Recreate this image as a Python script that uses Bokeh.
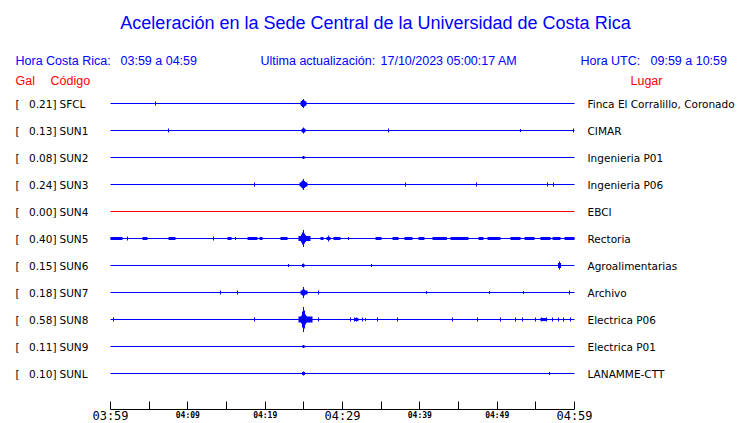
from bokeh.plotting import figure
from bokeh.models import Range1d, LinearAxis, FixedTicker, Label, ColumnDataSource
from bokeh.core.properties import value
from bokeh.embed import file_html
from bokeh.resources import INLINE

# ---------------- data ----------------
codes = ["SFCL", "SUN1", "SUN2", "SUN3", "SUN4", "SUN5", "SUN6", "SUN7", "SUN8", "SUN9", "SUNL"]
gal = [0.21, 0.13, 0.08, 0.24, 0.00, 0.40, 0.15, 0.18, 0.58, 0.11, 0.10]
places = ["Finca El Corralillo, Coronado", "CIMAR", "Ingenieria P01", "Ingenieria P06", "EBCI",
          "Rectoria", "Agroalimentarias", "Archivo", "Electrica P06", "Electrica P01", "LANAMME-CTT"]
online = [True, True, True, True, False, True, True, True, True, True, True]

# minutes after 03:59 (local time)
tick_minutes = [0, 5, 10, 15, 20, 25, 30, 35, 40, 45, 50, 55, 60]
major_tick_labels = {0: "03:59", 30: "04:29", 60: "04:59"}
minor_tick_labels = {10: "04:09", 20: "04:19", 40: "04:39", 50: "04:49"}

# trace peaks: (minute, half amplitude in display counts)
sfcl_peaks = [(5.82, 2), (24.7, 2.5), (24.83, 3.5), (24.96, 4.5), (25.09, 3), (25.22, 2)]
sun1_peaks = [(7.5, 2), (24.83, 2), (24.96, 3), (25.09, 2), (35.95, 2), (53.02, 1.5), (59.87, 2)]
sun2_peaks = [(24.83, 1), (24.96, 1.5), (25.09, 1)]
sun3_peaks = [(18.62, 2), (24.7, 3), (24.83, 4), (24.96, 5.5), (25.09, 3.5), (25.22, 2.5),
              (38.15, 2), (47.33, 2), (56.51, 2), (57.29, 2)]
sun4_peaks = []
sun5_peaks = [(2.2, 2), (13.32, 2), (16.16, 1.5), (24.7, 4), (24.83, 6), (24.96, 8.5),
              (25.09, 5), (25.22, 3.5), (28.2, 3), (30.78, 1.5)]
sun6_peaks = [(23.02, 1.5), (24.83, 1.5), (24.96, 2), (25.09, 1), (33.75, 1.5),
              (57.93, 2.5), (58.06, 4), (58.19, 2.5)]
sun7_peaks = [(14.22, 2), (16.42, 2), (24.83, 3), (24.96, 5.5), (25.09, 3), (26.9, 2),
              (40.86, 1.5), (49.01, 1.5), (53.41, 1.5), (59.35, 2)]
sun8_peaks = [(0.39, 2), (18.62, 2), (24.7, 4), (24.83, 8), (24.96, 12.5), (25.09, 9),
              (25.22, 5), (25.34, 3.5), (26.9, 2), (31.03, 2), (31.55, 2), (31.81, 2),
              (32.59, 2), (32.97, 1.5), (34.53, 2), (37.11, 2), (44.22, 2), (47.46, 2),
              (50.43, 2), (52.37, 2), (53.28, 2), (54.96, 2), (55.73, 2), (56.38, 2),
              (57.16, 2), (57.93, 2), (58.58, 2), (59.48, 2)]
sun9_peaks = [(24.83, 1), (24.96, 1.5), (25.09, 1)]
sunl_peaks = [(24.83, 1.5), (24.96, 2), (25.09, 1.5), (56.77, 1.5)]

# sustained vibration segments: (start minute, end minute, half amplitude)
sfcl_noise = [(24.57, 25.34, 2)]
sun1_noise = [(24.7, 25.22, 1.5)]
sun3_noise = [(24.44, 25.47, 2)]
sun5_noise = [(0.0, 1.55, 1.5), (4.14, 4.78, 1.5), (7.5, 8.4, 1.5), (15.13, 15.65, 1.5),
              (17.72, 19.0, 1.5), (19.27, 19.66, 1.5), (21.98, 22.89, 1.5), (24.31, 25.86, 2.5),
              (27.16, 27.54, 1.5), (27.93, 28.45, 1.5), (28.84, 29.74, 1.5), (34.27, 35.04, 1.5),
              (36.47, 37.24, 1.5), (38.02, 39.05, 1.5), (39.83, 40.6, 1.5), (41.64, 43.5, 1.5),
              (43.97, 46.29, 1.5), (47.59, 48.23, 1.5), (48.75, 50.43, 1.5), (51.72, 53.02, 1.5),
              (53.54, 54.83, 1.5), (55.6, 56.9, 1.5), (57.16, 58.19, 1.5), (58.71, 60.0, 1.5)]
sun7_noise = [(24.57, 25.47, 2)]
sun8_noise = [(24.31, 26.12, 3), (31.55, 32.07, 1.5), (55.6, 56.38, 1.5)]

peaks = [sfcl_peaks, sun1_peaks, sun2_peaks, sun3_peaks, sun4_peaks, sun5_peaks,
         sun6_peaks, sun7_peaks, sun8_peaks, sun9_peaks, sunl_peaks]
noise = {0: sfcl_noise, 1: sun1_noise, 3: sun3_noise, 5: sun5_noise, 7: sun7_noise, 8: sun8_noise}

# ---------------- layout / style ----------------
W, H = 740, 423
PX_PER_MIN = 464 / 60.0
X_START = -110 / PX_PER_MIN
ROW_PX = 27.0
ROW0_Y = 103.0
GAIN = 1.0 / ROW_PX          # rows per display count
AXIS_ROW = (408.5 - ROW0_Y) / ROW_PX
BLUE = "#0000ff"
RED = "#ff0000"

p = figure(width=W, height=H, output_backend="svg", toolbar_location=None,
           x_range=Range1d(X_START, X_START + W / PX_PER_MIN),
           y_range=Range1d((H - ROW0_Y) / ROW_PX, (0 - ROW0_Y) / ROW_PX),
           x_axis_type=None, y_axis_type=None, min_border=0, title=None)
p.grid.visible = False
p.outline_line_color = None
p.background_fill_color = "white"
p.border_fill_color = "white"

rows = list(range(len(codes)))

# baselines
base = ColumnDataSource(dict(
    x0=[0] * len(codes), x1=[60] * len(codes), y=rows,
    color=[BLUE if o else RED for o in online]))
p.segment(x0="x0", x1="x1", y0="y", y1="y", color="color", line_width=1, source=base)

# vibration blocks
qx0, qx1, qt, qb = [], [], [], []
for r, segs in noise.items():
    for t0, t1, a in segs:
        qx0.append(t0); qx1.append(t1)
        qt.append(r - a * GAIN); qb.append(r + a * GAIN)
p.quad(left=qx0, right=qx1, top=qt, bottom=qb, fill_color=BLUE, line_color=None)

# peaks
sx, sy0, sy1 = [], [], []
for r, plist in enumerate(peaks):
    for t, a in plist:
        sx.append(t); sy0.append(r - a * GAIN); sy1.append(r + a * GAIN)
p.segment(x0=sx, x1=sx, y0=sy0, y1=sy1, color=BLUE, line_width=1)

# row labels
lab_src = ColumnDataSource(dict(
    y=rows,
    br=["["] * len(codes),
    g=["%.2f]" % v for v in gal],
    c=codes,
    pl=places,
    xb=[(15 - 110) / PX_PER_MIN] * len(codes),
    xg=[(56 - 110) / PX_PER_MIN] * len(codes),
    xc=[(59 - 110) / PX_PER_MIN] * len(codes),
    xp=[(587 - 110) / PX_PER_MIN] * len(codes),
))
common = dict(text_font=value("DejaVu Sans"), text_font_size=value("10.5px"),
              text_baseline="middle", text_color="black", source=lab_src)
p.text(x="xb", y="y", text="br", text_align="left", **common)
p.text(x="xg", y="y", text="g", text_align="right", **common)
p.text(x="xc", y="y", text="c", text_align="left", **common)
p.text(x="xp", y="y", text="pl", text_align="left", **common)

# time axis
ax1 = LinearAxis(fixed_location=AXIS_ROW, ticker=FixedTicker(ticks=tick_minutes, minor_ticks=[]),
                 bounds=(0, 60),
                 major_label_overrides={t: major_tick_labels.get(t, "") for t in tick_minutes})
ax1.axis_line_color = "black"
ax1.axis_line_width = 1
ax1.major_tick_in = 8
ax1.major_tick_out = 0
ax1.minor_tick_in = 0
ax1.minor_tick_out = 0
ax1.major_label_standoff = 0
ax1.major_label_text_font = "DejaVu Sans Mono"
ax1.major_label_text_font_size = "12px"
ax1.major_label_text_color = "black"
p.add_layout(ax1, "below")

mt = list(minor_tick_labels.keys())
ax2 = LinearAxis(fixed_location=AXIS_ROW, ticker=FixedTicker(ticks=mt, minor_ticks=[]),
                 major_label_overrides=minor_tick_labels)
ax2.axis_line_color = None
ax2.major_tick_line_color = None
ax2.minor_tick_line_color = None
ax2.major_tick_in = 0
ax2.major_tick_out = 0
ax2.major_label_standoff = 2
ax2.major_label_text_font = "DejaVu Sans Mono"
ax2.major_label_text_font_size = "8px"
ax2.major_label_text_font_style = "bold"
ax2.major_label_text_color = "black"
p.add_layout(ax2, "below")


def label(x_page, y_page, text, color, size, align="left", font="Liberation Sans"):
    p.add_layout(Label(x=x_page, y=H - y_page, x_units="screen", y_units="screen",
                       text=text, text_color=color, text_font=font, text_font_size=size,
                       text_align=align, text_baseline="middle"))


label(375, 22, "Aceleración en la Sede Central de la Universidad de Costa Rica", BLUE, "18px", "center")
label(15, 60, "Hora Costa Rica:", BLUE, "12.5px")
label(120, 60, "03:59 a 04:59", BLUE, "12.5px")
label(260, 60, "Ultima actualización:", BLUE, "12.5px")
label(380, 60, "17/10/2023 05:00:17 AM", BLUE, "12.5px")
label(580, 60, "Hora UTC:", BLUE, "12.5px")
label(650, 60, "09:59 a 10:59", BLUE, "12.5px")
label(15, 80, "Gal", RED, "12.5px")
label(50, 80, "Código", RED, "12.5px")
label(630, 80, "Lugar", RED, "12.5px")

open("out.html", "w").write(file_html(p, INLINE))
